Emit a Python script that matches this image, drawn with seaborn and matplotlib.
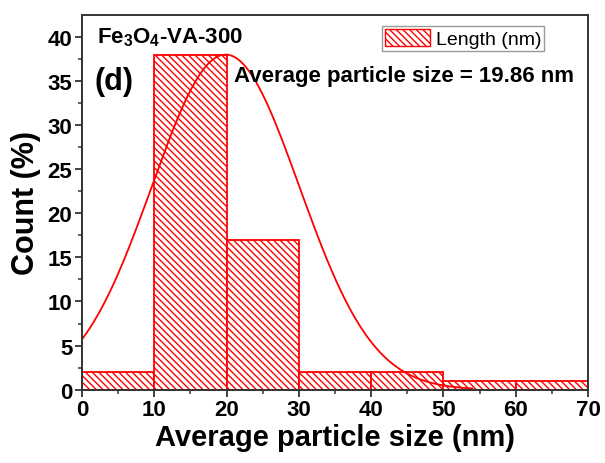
import numpy as np
import pandas as pd
import matplotlib
matplotlib.use("Agg")
import matplotlib.pyplot as plt
import seaborn as sns
from matplotlib.patches import Patch

# ---- data ----
bin_edges = [0, 10, 20, 30, 40, 50, 60, 70]
bin_centers = [5, 15, 25, 35, 45, 55, 65]
counts = [2, 38, 17, 2, 2, 1, 1]
# Gaussian fit parameters
fit_mean = 19.86
fit_sigma = 10.2
fit_amp = 38.0
fit_xmax = 54.0
x_ticks = [0, 10, 20, 30, 40, 50, 60, 70]
y_ticks = [0, 5, 10, 15, 20, 25, 30, 35, 40]

sns.set_theme(style="ticks")
plt.rcParams['font.family'] = ['Liberation Sans', 'DejaVu Sans']
plt.rcParams['hatch.linewidth'] = 1.0
plt.rcParams['text.color'] = 'black'
plt.rcParams['axes.labelcolor'] = 'black'
plt.rcParams['xtick.labelcolor'] = 'black'
plt.rcParams['ytick.labelcolor'] = 'black'
plt.rcParams['mathtext.fontset'] = 'custom'
plt.rcParams['mathtext.rm'] = 'Liberation Sans'
plt.rcParams['mathtext.bf'] = 'Liberation Sans:bold'

fig = plt.figure(figsize=(6.05, 4.64), dpi=100)
ax = fig.add_axes([0.1355, 0.158, 0.8365, 0.807])

hatch = "\\" * 5
df = pd.DataFrame({"size": bin_centers, "count": counts})
sns.histplot(data=df, x="size", weights="count", bins=bin_edges, ax=ax,
             color="white", edgecolor="red", linewidth=1.3, alpha=1,
             hatch=hatch, legend=False)

fx = np.linspace(0, fit_xmax, 300)
fy = fit_amp * np.exp(-(fx - fit_mean) ** 2 / (2 * fit_sigma ** 2))
sns.lineplot(x=fx, y=fy, ax=ax, color="red", linewidth=1.3)

ax.set_xlim(0, 70)
ax.set_ylim(0, 42.46)
ax.set_xticks(x_ticks)
ax.set_yticks(y_ticks)
ax.set_xticks(np.arange(5, 70, 10), minor=True)
ax.set_yticks(np.arange(2.5, 42, 5), minor=True)
ax.tick_params(which="major", direction="out", length=5, width=1.3,
               color="#333333", labelsize=16, pad=2, labelcolor="black")
ax.tick_params(which="minor", direction="out", length=3, width=1.1,
               color="#333333")
for lab in ax.get_xticklabels() + ax.get_yticklabels():
    lab.set_fontweight("bold")
for s in ax.spines.values():
    s.set_linewidth(1.4)
    s.set_color("#333333")

ax.set_xlabel("Average particle size (nm)", fontsize=21, fontweight="bold",
              labelpad=2, color="black")
ax.set_ylabel("Count (%)", fontsize=22, fontweight="bold", labelpad=5,
              color="black")

ax.text(0.03, 0.944, r"Fe$_\mathbf{3}$O$_\mathbf{4}$-VA-300", transform=ax.transAxes,
        fontsize=16, fontweight="bold", va="center", ha="left", color="black")
ax.text(0.025, 0.824, "(d)", transform=ax.transAxes,
        fontsize=22, fontweight="bold", va="center", ha="left", color="black")
ax.text(0.30, 0.84, "Average particle size = 19.86 nm", transform=ax.transAxes,
        fontsize=16, fontweight="bold", va="center", ha="left", color="black")

handle = Patch(facecolor="white", edgecolor="red", hatch=hatch, linewidth=1.0)
leg = ax.legend([handle], ["Length (nm)"], loc="upper left",
                bbox_to_anchor=(0.593, 0.971), fontsize=14, frameon=True,
                fancybox=False, framealpha=1, edgecolor="#999999",
                borderaxespad=0, borderpad=0.15, handlelength=2.3,
                handleheight=1.0, handletextpad=0.3)
leg.get_frame().set_linewidth(1.0)
for t in leg.get_texts():
    t.set_color("black")

fig.savefig("out.png", dpi=100)
